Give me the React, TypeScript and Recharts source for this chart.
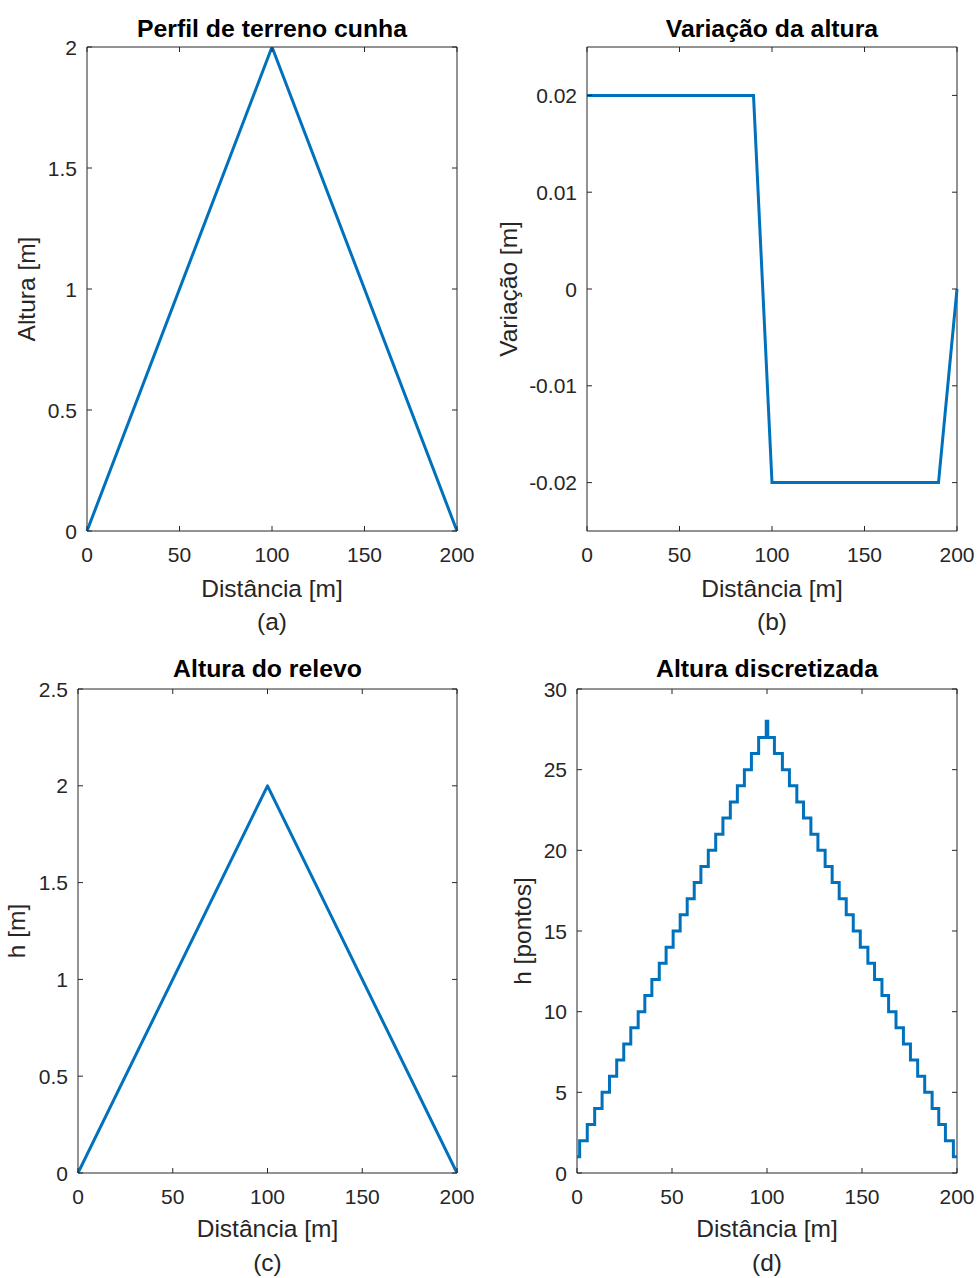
import React from 'react';
import { LineChart, Line, XAxis, YAxis, ReferenceArea } from 'recharts';

// ---------- shared ----------
const xTicks = [0, 50, 100, 150, 200];

// ---------- (a) Perfil de terreno cunha ----------
const perfilX = [0, 100, 200];
const perfilAltura = [0, 2, 0];
const perfilYTicks = [0, 0.5, 1, 1.5, 2];

// ---------- (b) Variação da altura ----------
const variacaoX = [0, 10, 20, 30, 40, 50, 60, 70, 80, 90, 100, 110, 120, 130, 140, 150, 160, 170, 180, 190, 200];
const variacaoVal = [0.02, 0.02, 0.02, 0.02, 0.02, 0.02, 0.02, 0.02, 0.02, 0.02, -0.02, -0.02, -0.02, -0.02, -0.02, -0.02, -0.02, -0.02, -0.02, -0.02, 0];
const variacaoYTicks = [-0.02, -0.01, 0, 0.01, 0.02];

// ---------- (c) Altura do relevo ----------
const relevoX = [0, 100, 200];
const relevoH = [0, 2, 0];
const relevoYTicks = [0, 0.5, 1, 1.5, 2, 2.5];

// ---------- (d) Altura discretizada ----------
const discX = [
  0, 1.4, 5.4, 9.3, 13.2, 17.1, 20.9, 24.6, 28.3, 32.2, 35.7, 39.4, 43.3, 46.9, 50.6, 54.3, 58.0, 61.7, 65.2, 69.1, 73.0, 76.8, 80.7, 84.4, 88.1, 91.8, 95.6,
  99.6, 100.4,
  103.9, 108.1, 111.8, 115.7, 119.2, 123.1, 126.8, 130.6, 134.3, 138.0, 141.7, 145.4, 149.1, 153.1, 156.6, 160.5, 164.0, 167.9, 171.8, 175.5, 179.3, 183.0, 186.9, 190.4, 193.9, 198.1,
  200,
];
const discH = [
  1, 2, 3, 4, 5, 6, 7, 8, 9, 10, 11, 12, 13, 14, 15, 16, 17, 18, 19, 20, 21, 22, 23, 24, 25, 26, 27,
  28, 27,
  26, 25, 24, 23, 22, 21, 20, 19, 18, 17, 16, 15, 14, 13, 12, 11, 10, 9, 8, 7, 6, 5, 4, 3, 2, 1,
  1,
];
const discYTicks = [0, 5, 10, 15, 20, 25, 30];

// ---------- styling ----------
const FONT = '"Liberation Sans", Arial, Helvetica, sans-serif';
const AX = '#262626';
const LINE = '#0072BD';
const TL = 5;
const TICK_FS = 21;
const LABEL_FS = 24.5;
const TITLE_FS = 24.8;
const XH = 40;
const YW = 60;

type PanelProps = {
  box: [number, number, number, number];
  plot: [number, number, number, number];
  xs: number[];
  ys: number[];
  yDomain: [number, number];
  yTicks: number[];
  stepped?: boolean;
  join?: 'round' | 'miter';
};

function Panel({ box, plot, xs, ys, yDomain, yTicks, stepped, join }: PanelProps) {
  const [bl, bt, bw, bh] = box;
  const [pl, pt, pr, pb] = plot;
  const plotW = pr - pl;
  const plotH = pb - pt;
  const data = xs.map((x, i) => ({ x, y: ys[i] }));
  const margin = {
    top: pt - bt,
    left: pl - bl - YW,
    right: bl + bw - pr,
    bottom: bt + bh - pb - XH,
  };

  const XTick = (p: any) => {
    const { x, y, payload } = p;
    return (
      <g>
        <line x1={x} x2={x} y1={y} y2={y - TL} stroke={AX} strokeWidth={1} />
        <line x1={x} x2={x} y1={y - plotH} y2={y - plotH + TL} stroke={AX} strokeWidth={1} />
        <text x={x} y={y + 31} textAnchor="middle" fill={AX} fontSize={TICK_FS} fontFamily={FONT}>
          {String(payload.value)}
        </text>
      </g>
    );
  };

  const YTick = (p: any) => {
    const { x, y, payload } = p;
    return (
      <g>
        <line x1={x} x2={x + TL} y1={y} y2={y} stroke={AX} strokeWidth={1} />
        <line x1={x + plotW} x2={x + plotW - TL} y1={y} y2={y} stroke={AX} strokeWidth={1} />
        <text x={x - 10} y={y + 7.5} textAnchor="end" fill={AX} fontSize={TICK_FS} fontFamily={FONT}>
          {String(payload.value)}
        </text>
      </g>
    );
  };

  return (
    <div style={{ position: 'absolute', left: bl, top: bt, width: bw, height: bh }}>
      <LineChart width={bw} height={bh} data={data} margin={margin}>
        <XAxis
          type="number"
          dataKey="x"
          domain={[0, 200]}
          ticks={xTicks}
          interval={0}
          height={XH}
          tickSize={0}
          tickMargin={0}
          axisLine={false}
          tickLine={false}
          tick={XTick}
        />
        <YAxis
          type="number"
          domain={yDomain}
          ticks={yTicks}
          interval={0}
          width={YW}
          tickSize={0}
          tickMargin={0}
          axisLine={false}
          tickLine={false}
          tick={YTick}
          allowDataOverflow
        />
        <ReferenceArea
          x1={0}
          x2={200}
          y1={yDomain[0]}
          y2={yDomain[1]}
          fill="none"
          fillOpacity={0}
          stroke={AX}
          strokeWidth={1}
          strokeOpacity={1}
        />
        <Line
          type={stepped ? 'stepAfter' : 'linear'}
          dataKey="y"
          stroke={LINE}
          strokeWidth={3}
          strokeLinejoin={join || 'miter'}
          dot={false}
          activeDot={false}
          isAnimationActive={false}
        />
      </LineChart>
    </div>
  );
}

type T = { x: number; y: number; s: string; bold?: boolean; rot?: boolean };

const texts: T[] = [
  { x: 272, y: 37, s: 'Perfil de terreno cunha', bold: true },
  { x: 772, y: 37, s: 'Variação da altura', bold: true },
  { x: 267.5, y: 677, s: 'Altura do relevo', bold: true },
  { x: 767, y: 677, s: 'Altura discretizada', bold: true },
  { x: 272, y: 597, s: 'Distância [m]' },
  { x: 772, y: 597, s: 'Distância [m]' },
  { x: 267.5, y: 1237, s: 'Distância [m]' },
  { x: 767, y: 1237, s: 'Distância [m]' },
  { x: 272, y: 630, s: '(a)' },
  { x: 772, y: 630, s: '(b)' },
  { x: 267.5, y: 1271, s: '(c)' },
  { x: 767, y: 1271, s: '(d)' },
  { x: 35, y: 289, s: 'Altura [m]', rot: true },
  { x: 517, y: 289, s: 'Variação [m]', rot: true },
  { x: 25, y: 931, s: 'h [m]', rot: true },
  { x: 531, y: 931, s: 'h [pontos]', rot: true },
];

export default function App() {
  return (
    <div style={{ position: 'absolute', left: 0, top: 0, width: 978, height: 1278, background: '#ffffff', overflow: 'hidden' }}>
      <Panel box={[0, 0, 489, 640]} plot={[87, 47, 457, 531]} xs={perfilX} ys={perfilAltura} yDomain={[0, 2]} yTicks={perfilYTicks} join="round" />
      <Panel box={[489, 0, 489, 640]} plot={[587, 47, 957, 531]} xs={variacaoX} ys={variacaoVal} yDomain={[-0.025, 0.025]} yTicks={variacaoYTicks} />
      <Panel box={[0, 640, 489, 638]} plot={[78, 689, 457, 1173]} xs={relevoX} ys={relevoH} yDomain={[0, 2.5]} yTicks={relevoYTicks} join="round" />
      <Panel box={[489, 640, 489, 638]} plot={[577, 689, 957, 1173]} xs={discX} ys={discH} yDomain={[0, 30]} yTicks={discYTicks} stepped />
      <svg width={978} height={1278} style={{ position: 'absolute', left: 0, top: 0, pointerEvents: 'none' }}>
        {texts.map((t, i) => (
          <text
            key={i}
            x={t.x}
            y={t.y}
            textAnchor="middle"
            fontFamily={FONT}
            fontSize={t.bold ? TITLE_FS : LABEL_FS}
            fontWeight={t.bold ? 'bold' : 'normal'}
            fill={t.bold ? '#000000' : AX}
            transform={t.rot ? `rotate(-90 ${t.x} ${t.y})` : undefined}
          >
            {t.s}
          </text>
        ))}
      </svg>
    </div>
  );
}
